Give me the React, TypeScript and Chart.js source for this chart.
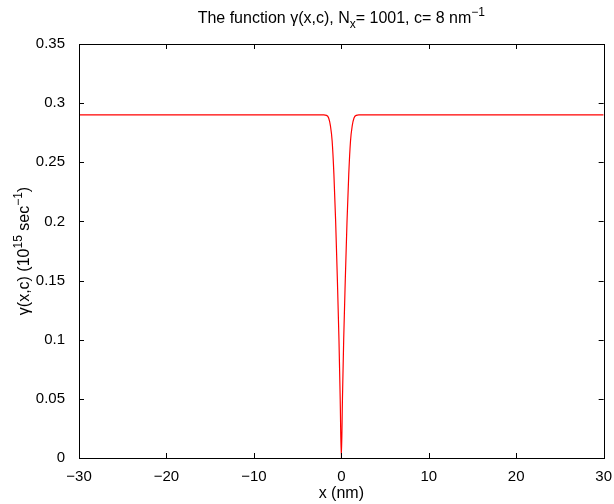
import React, { useEffect, useRef } from "react";
import { Chart, registerables } from "chart.js";

Chart.register(...registerables);

// Values (x in nm, gamma in 1e15 sec^-1)
const xValues: number[] = [
  -30, -2.0, -1.7, -1.45, -1.25, -1.05, -0.85, -0.65, -0.45, -0.27, -0.13, 0,
  0.13, 0.27, 0.45, 0.65, 0.85, 1.05, 1.25, 1.45, 1.7, 2.0, 30,
];
const gammaValues: number[] = [
  0.29, 0.29, 0.2897, 0.2875, 0.281, 0.268, 0.24, 0.2, 0.15, 0.1, 0.05, 0,
  0.05, 0.1, 0.15, 0.2, 0.24, 0.268, 0.281, 0.2875, 0.2897, 0.29, 0.29,
];
const xTicks: number[] = [-30, -20, -10, 0, 10, 20, 30];
const yTicks: number[] = [0, 0.05, 0.1, 0.15, 0.2, 0.25, 0.3, 0.35];

const FONT = "'Liberation Sans', Arial, Helvetica, sans-serif";
const TICK = 15;
const MAIN = 16;
const SMALL = 12;

const decorPlugin = {
  id: "decor",
  afterDraw(chart: any) {
    const ctx = chart.ctx as CanvasRenderingContext2D;
    const { left, right, top, bottom } = chart.chartArea;
    const xs = chart.scales.x;
    const ys = chart.scales.y;
    ctx.save();
    // box
    ctx.strokeStyle = "#000";
    ctx.lineWidth = 1;
    ctx.strokeRect(Math.round(left) + 0.5, Math.round(top) + 0.5, Math.round(right - left), Math.round(bottom - top));
    // ticks inward
    const tl = 5;
    ctx.beginPath();
    xTicks.forEach((v) => {
      const px = Math.round(xs.getPixelForValue(v)) + 0.5;
      ctx.moveTo(px, bottom);
      ctx.lineTo(px, bottom - tl);
      ctx.moveTo(px, top);
      ctx.lineTo(px, top + tl);
    });
    yTicks.forEach((v) => {
      const py = Math.round(ys.getPixelForValue(v)) + 0.5;
      ctx.moveTo(left, py);
      ctx.lineTo(left + tl, py);
      ctx.moveTo(right, py);
      ctx.lineTo(right - tl, py);
    });
    ctx.stroke();

    ctx.fillStyle = "#000";
    ctx.textBaseline = "alphabetic";
    const cx = (left + right) / 2;

    // title with subscript and superscript
    const parts: { t: string; size: number; dy: number }[] = [
      { t: "The function \u03b3(x,c), N", size: MAIN, dy: 0 },
      { t: "x", size: SMALL, dy: 5 },
      { t: "= 1001, c= 8 nm", size: MAIN, dy: 0 },
      { t: "\u22121", size: SMALL, dy: -7 },
    ];
    let total = 0;
    parts.forEach((p) => {
      ctx.font = `${p.size}px ${FONT}`;
      total += ctx.measureText(p.t).width;
    });
    let x0 = cx - total / 2;
    const by = 23;
    parts.forEach((p) => {
      ctx.font = `${p.size}px ${FONT}`;
      ctx.textAlign = "left";
      ctx.fillText(p.t, x0, by + p.dy);
      x0 += ctx.measureText(p.t).width;
    });

    // x label
    ctx.font = `${MAIN}px ${FONT}`;
    ctx.textAlign = "center";
    ctx.fillText("x (nm)", cx, 498);

    // y label, rotated
    const yparts: { t: string; size: number; dy: number }[] = [
      { t: "\u03b3(x,c) (10", size: MAIN, dy: 0 },
      { t: "15", size: SMALL, dy: -7 },
      { t: " sec", size: MAIN, dy: 0 },
      { t: "\u22121", size: SMALL, dy: -7 },
      { t: ")", size: MAIN, dy: 0 },
    ];
    let ytotal = 0;
    yparts.forEach((p) => {
      ctx.font = `${p.size}px ${FONT}`;
      ytotal += ctx.measureText(p.t).width;
    });
    ctx.translate(29, (top + bottom) / 2);
    ctx.rotate(-Math.PI / 2);
    let yx = -ytotal / 2;
    yparts.forEach((p) => {
      ctx.font = `${p.size}px ${FONT}`;
      ctx.textAlign = "left";
      ctx.fillText(p.t, yx, p.dy);
      yx += ctx.measureText(p.t).width;
    });
    ctx.restore();
  },
};

export default function App() {
  const ref = useRef<HTMLCanvasElement | null>(null);
  useEffect(() => {
    if (!ref.current) return;
    const data = xValues.map((x, i) => ({ x, y: gammaValues[i] }));
    const chart = new Chart(ref.current, {
      type: "line",
      data: {
        datasets: [
          {
            data,
            borderColor: "#ff0000",
            borderWidth: 1.2,
            pointRadius: 0,
            fill: false,
            cubicInterpolationMode: "monotone",
          },
        ],
      },
      options: {
        animation: false,
        responsive: false,
        maintainAspectRatio: false,
        layout: { padding: { top: 44, right: 9, left: 0, bottom: 0 } },
        plugins: {
          legend: { display: false },
          tooltip: { enabled: false },
          title: { display: false },
        },
        scales: {
          x: {
            type: "linear",
            min: -30,
            max: 30,
            afterBuildTicks: (s: any) => {
              s.ticks = xTicks.map((v) => ({ value: v }));
            },
            afterFit: (s: any) => {
              s.height = 46;
            },
            grid: { display: false },
            border: { display: false },
            ticks: {
              color: "#000",
              font: { family: FONT, size: TICK },
              padding: 2,
              maxRotation: 0,
              callback: (v: any) => (Number(v) < 0 ? "\u2212" + Math.abs(Number(v)) : String(v)),
            },
          },
          y: {
            type: "linear",
            min: 0,
            max: 0.35,
            afterBuildTicks: (s: any) => {
              s.ticks = yTicks.map((v) => ({ value: v }));
            },
            afterFit: (s: any) => {
              s.width = 79;
            },
            grid: { display: false },
            border: { display: false },
            ticks: {
              color: "#000",
              font: { family: FONT, size: TICK },
              padding: 6,
              callback: (v: any) => String(Number(Number(v).toFixed(2))),
            },
          },
        },
      },
      plugins: [decorPlugin],
    });
    return () => chart.destroy();
  }, []);
  return (
    <div style={{ position: "fixed", left: 0, top: 0, width: 614, height: 504, background: "#fff" }}>
      <canvas ref={ref} width={614} height={504} style={{ width: 614, height: 504, display: "block" }} />
    </div>
  );
}
